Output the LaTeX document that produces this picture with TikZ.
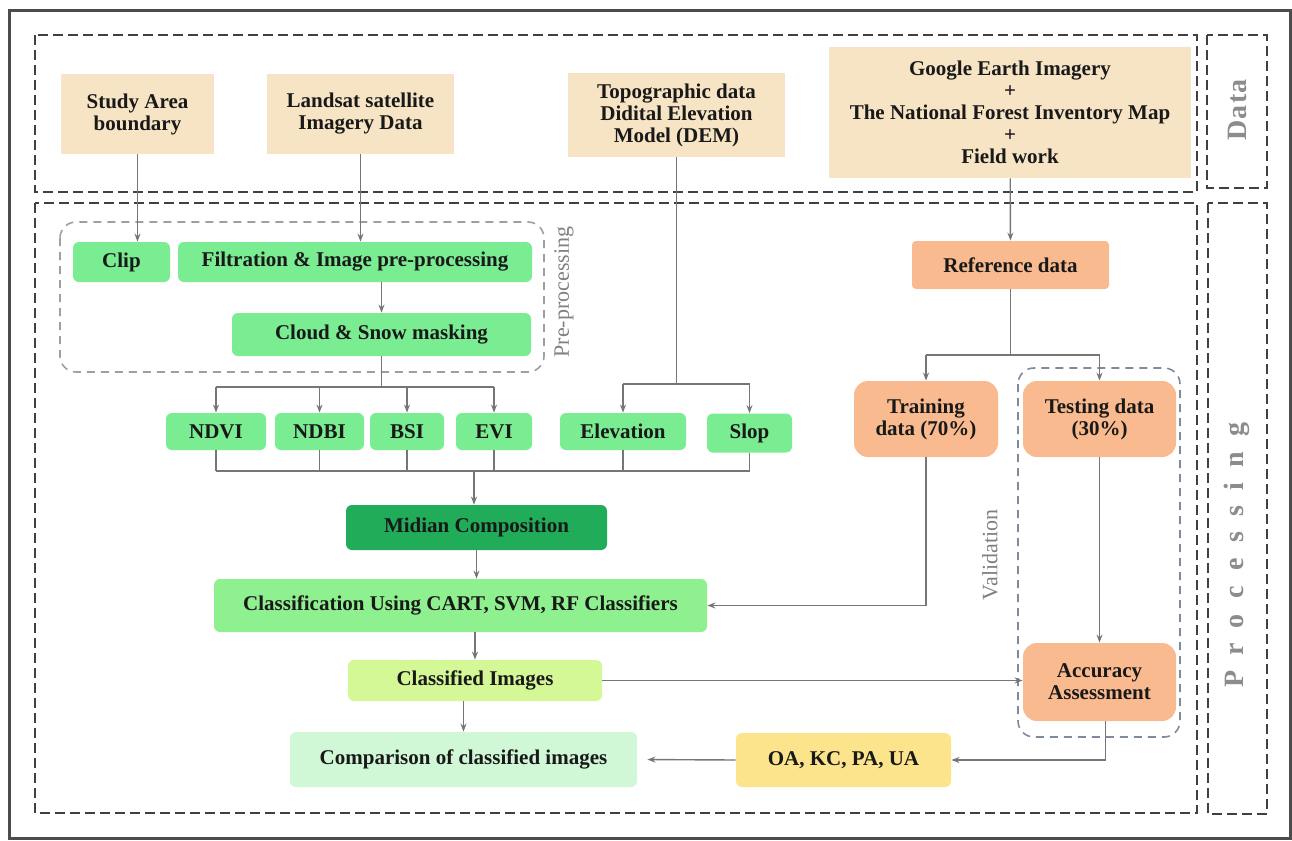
\documentclass[tikz,border=0pt]{standalone}
\usepackage{fontspec}
\setmainfont{Liberation Serif}
\usetikzlibrary{arrows.meta}

\definecolor{databg}{RGB}{246,228,196}
\definecolor{procgreen}{RGB}{122,236,146}
\definecolor{midgreen}{RGB}{32,172,88}
\definecolor{clsgreen}{RGB}{142,240,142}
\definecolor{imggreen}{RGB}{212,248,150}
\definecolor{cmpgreen}{RGB}{208,248,214}
\definecolor{refpeach}{RGB}{248,186,142}
\definecolor{oayellow}{RGB}{252,228,140}
\definecolor{linegray}{RGB}{118,118,118}
\definecolor{valblue}{RGB}{128,138,158}

\tikzset{
      box/.style    = { rectangle, inner sep=2pt, align=center, text=black!90,
                        font=\fontsize{10.5}{11}\selectfont\bfseries },
      datum/.style  = { box, fill=databg },
      proc/.style   = { box, fill=procgreen, rounded corners=3pt },
      ref/.style    = { box, fill=refpeach, rounded corners=7pt },
      link/.style   = { draw=linegray, line width=0.7pt },
      flow/.style   = { link, -{Stealth[length=4pt,width=3pt]} },
      frame/.style  = { draw=black!75, line width=1.2pt, dash pattern=on 5pt off 2.5pt },
      group/.style  = { draw=gray!75, line width=0.8pt, dash pattern=on 4pt off 3pt, rounded corners=8pt },
      side/.style   = { rotate=90, text=gray!90,
                        font=\fontsize{14}{16}\selectfont\bfseries\addfontfeature{LetterSpace=#1} },
      note/.style   = { rotate=90, text=gray, font=\fontsize{11}{12}\selectfont }
    }

\begin{document}
\begin{tikzpicture}[x=0.5pt, y=-0.5pt]
      \useasboundingbox (0,0) rectangle (1292,841);
      \fill[white] (0,0) rectangle (1292,841);
      \draw[black!70, line width=1.5pt] (9,10) rectangle (1290,838);

      % Draw frames
      \draw[frame] (35,35)   rectangle (1197,192);
      \draw[frame] (1207,35) rectangle (1267,188);
      \draw[frame] (35,203)  rectangle (1197,813);
      \draw[frame] (1208,203) rectangle (1267,814);
      \draw[group] (60,222)   rectangle (544,372);
      \draw[group, draw=valblue] (1018,368) rectangle (1180,737);

      \node[side=5]  (datalabel) at (1237,110) {Data};
      \node[side=55] (proclabel) at (1237,555) {Processing};
      \node[note] (prelabel)  at (564,292)  {Pre-processing};
      \node[note] (vallabel)  at (990,555)  {Validation};

      % Data sources
      \node[datum, minimum width=76.5pt, minimum height=40pt] (study)   at (137.5,114) {Study Area\\boundary};
      \node[datum, minimum width=93.5pt, minimum height=40pt] (landsat) at (360.5,114) {Landsat satellite\\Imagery Data};
      \node[datum, minimum width=108.5pt, minimum height=42pt] (topo)   at (676.5,115) {Topographic data\\Didital Elevation\\Model (DEM)};
      \node[datum, minimum width=181pt, minimum height=65.5pt] (google)  at (1010,112.5)
        {Google Earth Imagery\\+\\The National Forest Inventory Map\\+\\Field work};

      % Pre-processing and indices
      \node[proc, minimum width=48.5pt, minimum height=20pt]   (clip)  at (121.5,262) {Clip};
      \node[proc, minimum width=177pt, minimum height=20pt]    (filt)  at (355,262)   {Filtration \& Image pre-processing};
      \node[proc, minimum width=149.5pt, minimum height=21.5pt] (cloud) at (381.5,334.5) {Cloud \& Snow masking};
      \foreach \n/\t/\x/\w in {ndvi/NDVI/216/50, ndbi/NDBI/319.5/44.5, bsi/BSI/407/37,
                               evi/EVI/494/38, elev/Elevation/623/63} {
        \node[proc, minimum width=\w pt, minimum height=18.5pt] (\n) at (\x,431.5) {\t};
      }
      \node[proc, minimum width=42.5pt, minimum height=19.5pt] (slop) at (749.5,433) {Slop};

      % Classification chain
      \node[proc, fill=midgreen, minimum width=130.5pt, minimum height=22.5pt] (midian)   at (476.5,527.5) {Midian Composition};
      \node[proc, fill=clsgreen, minimum width=246.5pt, minimum height=26.5pt] (classif)  at (460.5,605.5) {Classification Using CART, SVM, RF Classifiers};
      \node[proc, fill=imggreen, minimum width=127pt, minimum height=20.5pt]   (classimg) at (475,680.5)   {Classified Images};
      \node[proc, fill=cmpgreen, minimum width=173.5pt, minimum height=27.5pt] (compare)  at (463.5,759.5) {Comparison of classified images};

      % Reference data
      \node[ref, rounded corners=2pt, minimum width=98.5pt, minimum height=24pt] (reference) at (1010.5,265) {Reference data};
      \node[ref, minimum width=72pt, minimum height=38pt]   (training) at (926,419)    {Training\\data (70\%)};
      \node[ref, minimum width=76.5pt, minimum height=38pt] (testing)  at (1099.5,419) {Testing data\\(30\%)};
      \node[ref, minimum width=76.5pt, minimum height=39pt] (accuracy) at (1099.5,682) {Accuracy\\Assessment};
      \node[proc, fill=oayellow, minimum width=107.5pt, minimum height=27pt] (oa) at (843.5,760) {OA, KC, PA, UA};

      % Connectors
      \draw[flow] (study.south) -- (study.south |- clip.north);
      \draw[flow] (landsat.south) -- (landsat.south |- filt.north);
      \draw[flow] (filt.south -| cloud.north) -- (cloud.north);

      \coordinate (cloudsplit) at (381.5,387);
      \draw[link] (cloud.south) -- (cloudsplit);
      \draw[link] (ndvi.north |- cloudsplit) -- (evi.north |- cloudsplit);
      \foreach \n in {ndvi,ndbi,bsi,evi} {
        \draw[flow] (\n.north |- cloudsplit) -- (\n.north);
      }

      \coordinate (topsplit) at (676.5,384);
      \draw[link] (topo.south) -- (topsplit);
      \draw[link] (elev.north |- topsplit) -- (slop.north |- topsplit);
      \foreach \n in {elev,slop} {
        \draw[flow] (\n.north |- topsplit) -- (\n.north);
      }

      \coordinate (merge) at (474,471);
      \draw[link] (ndvi.south |- merge) -- (slop.south |- merge);
      \foreach \n in {ndvi,ndbi,bsi,evi,elev,slop} {
        \draw[link] (\n.south) -- (\n.south |- merge);
      }
      \draw[flow] (merge) -- (merge |- midian.north);

      \draw[flow] (midian.south) -- (midian.south |- classif.north);
      \draw[flow] (classif.south -| classimg.north) -- (classimg.north);
      \draw[flow] (classimg.south -| compare.north) -- (compare.north);

      \draw[flow] (google) -- (reference);
      \coordinate (refsplit) at (1010.5,355);
      \draw[link] (reference.south) -- (refsplit);
      \draw[link] (training.north |- refsplit) -- (testing.north |- refsplit);
      \foreach \n in {training,testing} {
        \draw[flow] (\n.north |- refsplit) -- (\n.north);
      }

      \draw[flow] (training.south) |- (classif.east);
      \draw[flow] (testing) -- (accuracy);
      \draw[flow] (classimg.east) -- (classimg.east -| accuracy.west);
      \draw[flow] ([xshift=3pt]accuracy.south) |- (oa.east);
      \draw[flow, shorten >=5pt] (oa.west) -- (compare.east);
\end{tikzpicture}
\end{document}
